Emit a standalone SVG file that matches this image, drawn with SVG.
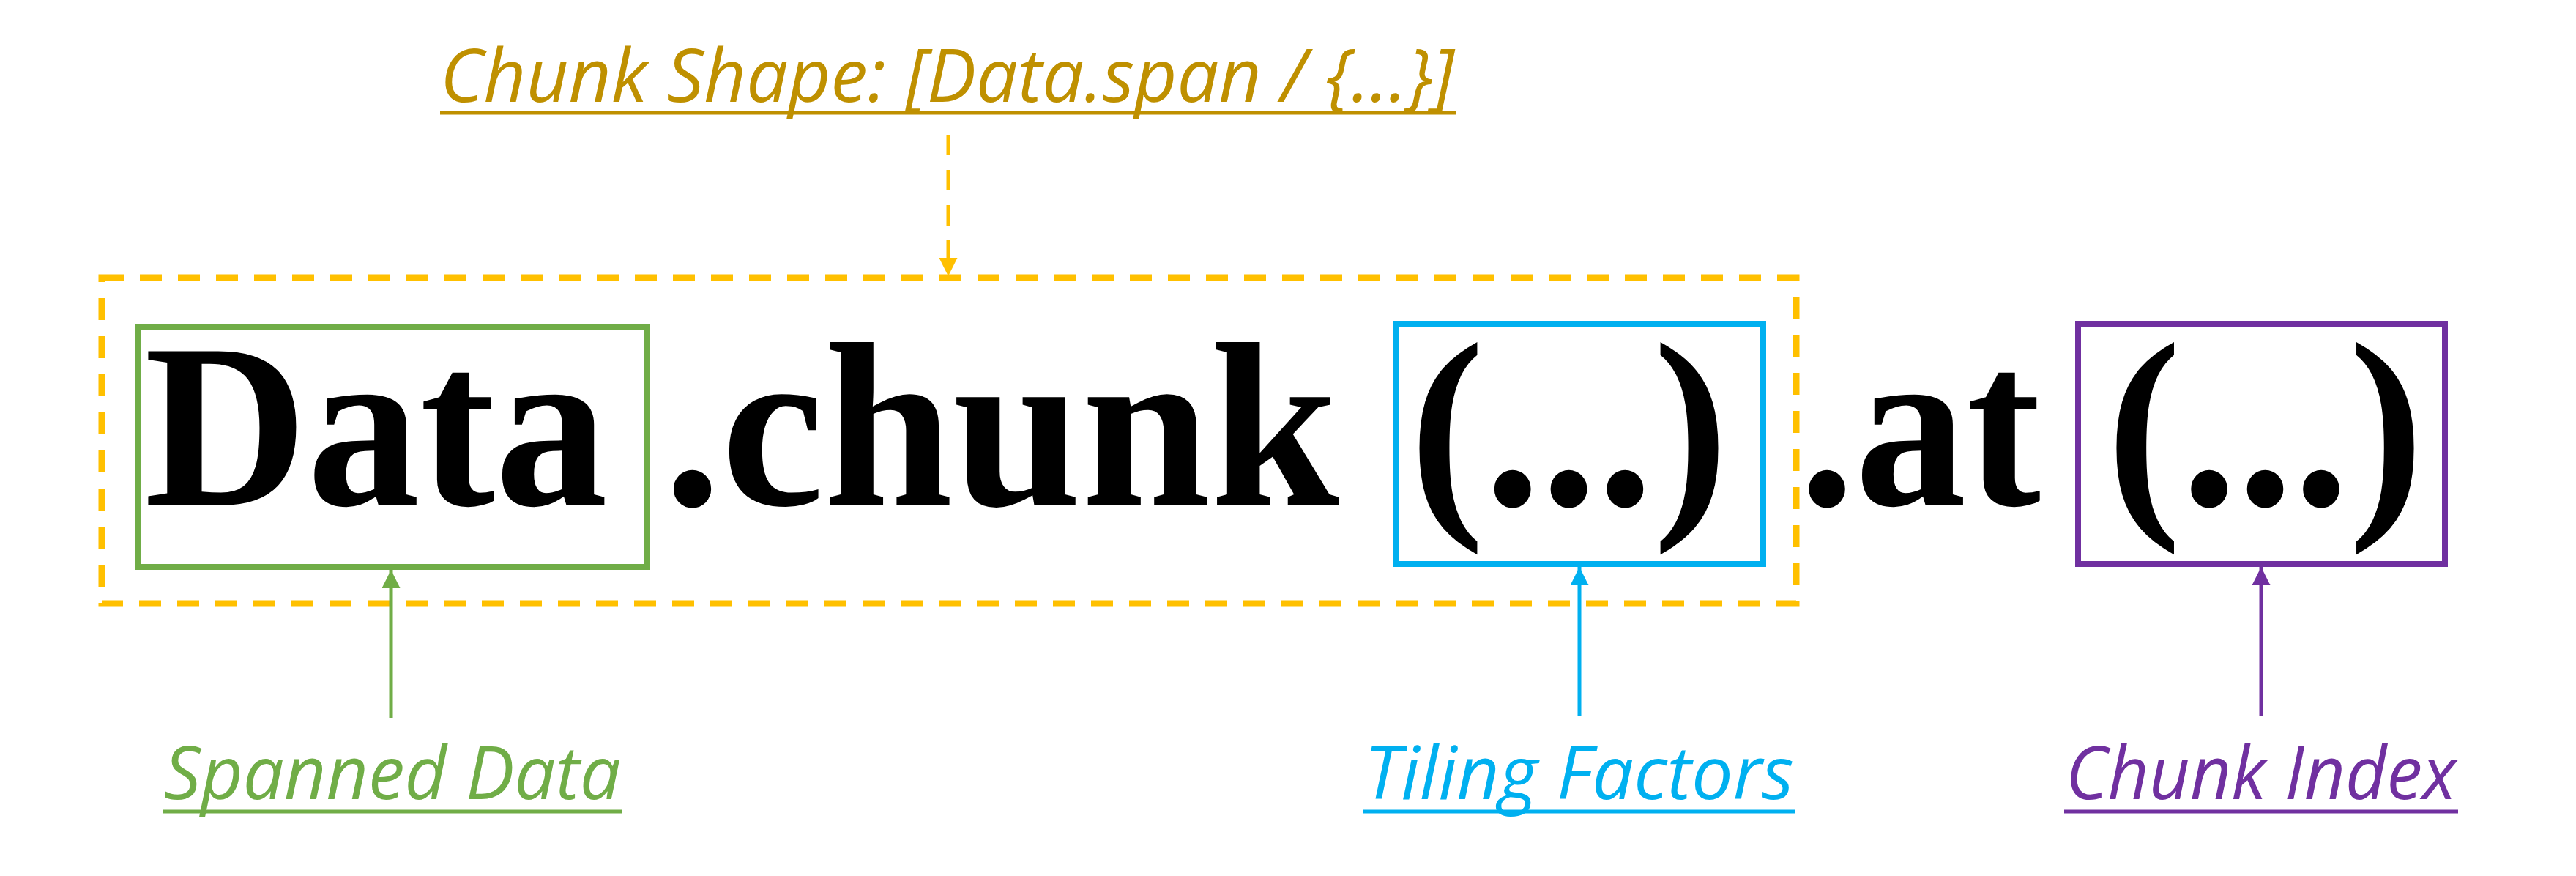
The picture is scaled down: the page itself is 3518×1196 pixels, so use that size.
<svg xmlns="http://www.w3.org/2000/svg" width="3518" height="1196" viewBox="0 0 3518 1196">
<style>
.lbl{font-family:"Open Sans","Liberation Sans",sans-serif;font-style:italic;font-size:100px}
.big{font-family:"Liberation Serif","DejaVu Serif",serif;font-weight:bold;font-size:320px;fill:#000}
.box{fill:none;stroke-width:8}
</style>
<defs>
<marker id="ag" viewBox="0 0 10 10" refX="10" refY="5" markerWidth="5" markerHeight="5" orient="auto-start-reverse"><path d="M0,0L10,5L0,10z" fill="#70AD47"/></marker>
<marker id="ab" viewBox="0 0 10 10" refX="10" refY="5" markerWidth="5" markerHeight="5" orient="auto-start-reverse"><path d="M0,0L10,5L0,10z" fill="#00B0F0"/></marker>
<marker id="ap" viewBox="0 0 10 10" refX="10" refY="5" markerWidth="5" markerHeight="5" orient="auto-start-reverse"><path d="M0,0L10,5L0,10z" fill="#7030A0"/></marker>
<marker id="ay" viewBox="0 0 10 10" refX="10" refY="5" markerWidth="5" markerHeight="5" orient="auto-start-reverse"><path d="M0,0L10,5L0,10z" fill="#FFC000"/></marker>
</defs>
<rect width="3518" height="1196" fill="#fff"/>
<g id="chunkShape">
<rect x="139" y="379" width="2314" height="445" fill="none" stroke="#FFC000" stroke-width="9" stroke-dasharray="30 22"/>
</g>
<g id="title">
<text class="lbl" x="601" y="139" fill="#BF9000" textLength="1385" lengthAdjust="spacingAndGlyphs">Chunk Shape: [Data.span / {...}]</text>
<line x1="601" y1="154" x2="1988" y2="154" stroke="#BF9000" stroke-width="5"/>
</g>
<g id="expr">
<text class="big" x="197" y="689" textLength="633" lengthAdjust="spacingAndGlyphs">Data</text>
<text class="big" x="906" y="689" textLength="923" lengthAdjust="spacingAndGlyphs">.chunk</text>
<text class="big" x="1925" y="689" textLength="435" lengthAdjust="spacingAndGlyphs">(...)</text>
<text class="big" x="2457" y="689" textLength="330" lengthAdjust="spacingAndGlyphs">.at</text>
<text class="big" x="2877" y="689" textLength="433" lengthAdjust="spacingAndGlyphs">(...)</text>
</g>
<g id="spanned">
<rect class="box" x="188" y="446" width="696" height="328" stroke="#70AD47"/>
<text class="lbl" x="224" y="1091" fill="#70AD47" textLength="624" lengthAdjust="spacingAndGlyphs">Spanned Data</text>
<line x1="222" y1="1108" x2="850" y2="1108" stroke="#70AD47" stroke-width="5"/>
</g>
<g id="tiling">
<rect class="box" x="1907" y="442" width="501" height="328" stroke="#00B0F0"/>
<text class="lbl" x="1863" y="1091" fill="#00B0F0" textLength="587" lengthAdjust="spacingAndGlyphs">Tiling Factors</text>
<line x1="1861" y1="1108" x2="2452" y2="1108" stroke="#00B0F0" stroke-width="5"/>
</g>
<g id="index">
<rect class="box" x="2838" y="442" width="501" height="328" stroke="#7030A0"/>
<text class="lbl" x="2821" y="1091" fill="#7030A0" textLength="534" lengthAdjust="spacingAndGlyphs">Chunk Index</text>
<line x1="2819" y1="1108" x2="3357" y2="1108" stroke="#7030A0" stroke-width="5"/>
</g>
<g id="connectors" fill="none" stroke-width="5">
<line x1="1295" y1="184" x2="1295" y2="377" stroke="#FFC000" stroke-dasharray="28 20" marker-end="url(#ay)"/>
<line x1="534" y1="980" x2="534" y2="778" stroke="#70AD47" marker-end="url(#ag)"/>
<line x1="2157" y1="978" x2="2157" y2="774" stroke="#00B0F0" marker-end="url(#ab)"/>
<line x1="3088" y1="978" x2="3088" y2="774" stroke="#7030A0" marker-end="url(#ap)"/>
</g>
</svg>
